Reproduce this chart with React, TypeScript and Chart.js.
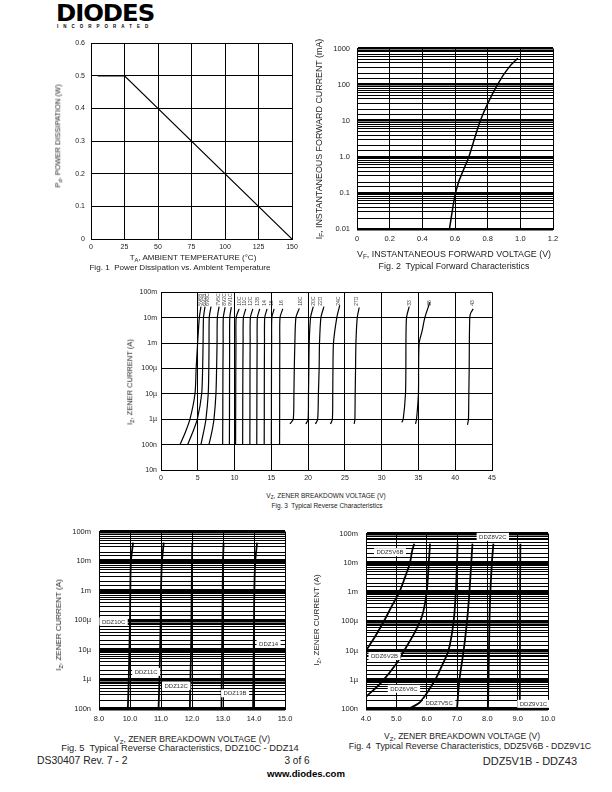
import React, { useEffect, useRef } from 'react';
import { Chart, registerables } from 'chart.js';

Chart.register(...registerables);

const FONT = '"Liberation Sans", Arial, Helvetica, sans-serif';

// ---------- Fig. 1 : power dissipation vs ambient temperature ----------
const FIG1_TEMP = [5, 25, 150];
const FIG1_POWER = [0.5, 0.5, 0];
const FIG1_X_LABELS = ['0', '25', '50', '75', '100', '125', '150'];
const FIG1_Y_LABELS = ['0', '0.1', '0.2', '0.3', '0.4', '0.5', '0.6'];

// ---------- Fig. 2 : forward characteristics ----------
const FIG2_VF = [0.566, 0.603, 0.685, 0.755, 0.86, 0.93, 0.985];
const FIG2_IF = [0.01, 0.1, 1, 10, 100, 300, 540];
const FIG2_X_LABELS = ['0', '0.2', '0.4', '0.6', '0.8', '1.0', '1.2'];
const FIG2_Y_LABELS = ['0.01', '0.1', '1.0', '10', '100', '1000']; // 10^-2 .. 10^3

// ---------- Fig. 3 : reverse characteristics (all types) ----------
const FIG3_NAMES = ['5V6B', '6V2B', '6V8C', '7V5C', '8V2C', '9V1C', '10C', '11C', '12C', '13B', '14', '15', '16', '18C', '20C', '22D', '24C', '27D', '33', '36', '43'];
const FIG3_VOLTS = [
  [2.58, 3.3, 3.94, 4.62, 4.78, 4.98, 5.21, 5.43],
  [3.62, 4.3, 4.94, 5.53, 5.66, 5.72, 5.78, 5.98],
  [5.43, 5.78, 6.11, 6.42, 6.5, 6.53, 6.56, 6.8],
  [6.52, 6.9, 7.2, 7.47, 7.56, 7.62, 7.66, 7.9],
  [8.38, 8.4, 8.42, 8.45, 8.47, 8.72],
  [9.3, 9.31, 9.32, 9.33, 9.35, 9.56],
  [10.14, 10.15, 10.17, 10.19, 10.22, 10.62],
  [11.1, 11.11, 11.13, 11.16, 11.2, 11.52],
  [12.08, 12.09, 12.1, 12.12, 12.15, 12.48],
  [13.02, 13.03, 13.05, 13.07, 13.1, 13.42],
  [14.03, 14.04, 14.05, 14.07, 14.1, 14.42],
  [15.0, 15.01, 15.02, 15.04, 15.07, 15.38],
  [16.12, 16.13, 16.14, 16.15, 16.18, 16.55],
  [17.53, 17.98, 18.07, 18.12, 18.2, 18.34, 18.8],
  [19.7, 20.0, 20.05, 20.1, 20.15, 20.33, 20.7],
  [21.0, 21.3, 21.4, 21.5, 21.55, 21.74, 22.15],
  [23.05, 23.3, 23.35, 23.38, 23.45, 23.9, 24.3],
  [26.27, 26.36, 26.4, 26.45, 26.5, 26.68, 26.95],
  [32.74, 32.93, 33.24, 33.29, 33.3, 33.38, 33.74],
  [34.6, 34.74, 35.0, 35.02, 35.1, 35.5, 35.87, 36.55],
  [41.67, 41.8, 41.85, 41.9, 41.92, 41.98, 42.1, 42.44],
];
const FIG3_AMPS = [
  [1e-7, 3e-7, 1e-6, 1e-5, 1e-4, 1e-3, 1e-2, 2.7e-2],
  [1e-7, 3e-7, 1e-6, 1e-5, 1e-4, 1e-3, 1e-2, 2.7e-2],
  [1e-7, 3e-7, 1e-6, 1e-5, 1e-4, 1e-3, 1e-2, 2.7e-2],
  [1e-7, 3e-7, 1e-6, 1e-5, 1e-4, 1e-3, 1e-2, 2.7e-2],
  [1e-7, 1e-6, 1e-4, 1e-3, 1e-2, 2.6e-2],
  [1e-7, 1e-6, 1e-4, 1e-3, 1e-2, 2.6e-2],
  [1e-7, 1e-6, 1e-4, 1e-3, 1e-2, 2.2e-2],
  [1e-7, 1e-6, 1e-4, 1e-3, 1e-2, 2.2e-2],
  [1e-7, 1e-6, 1e-4, 1e-3, 1e-2, 2.2e-2],
  [1e-7, 1e-6, 1e-4, 1e-3, 1e-2, 2.2e-2],
  [1e-7, 1e-6, 1e-4, 1e-3, 1e-2, 2.2e-2],
  [1e-7, 1e-6, 1e-4, 1e-3, 1e-2, 2.2e-2],
  [1e-7, 1e-6, 1e-4, 1e-3, 1e-2, 2.2e-2],
  [6.5e-7, 1e-6, 1e-5, 1e-4, 1e-3, 1e-2, 2.3e-2],
  [6.5e-7, 1e-6, 1e-5, 1e-4, 1e-3, 1e-2, 2.7e-2],
  [6.5e-7, 1e-6, 1e-5, 1e-4, 1e-3, 1e-2, 2.7e-2],
  [6.5e-7, 1e-6, 1e-5, 1e-4, 1e-3, 1e-2, 3e-2],
  [6.5e-7, 1e-6, 1e-5, 1e-4, 1e-3, 1e-2, 2.5e-2],
  [7.5e-7, 1e-6, 1e-5, 1e-4, 1e-3, 1e-2, 2.7e-2],
  [6.5e-7, 1e-6, 1e-5, 1e-4, 1e-3, 3e-3, 1e-2, 4e-2],
  [6e-7, 1e-6, 1e-5, 1e-4, 1e-3, 1e-2, 1.5e-2, 2.2e-2],
];
const FIG3_LABEL_VOLTS = [5.43, 5.88, 6.34, 7.88, 8.7, 9.51, 10.64, 11.41, 12.23, 13.09, 14.13, 15.04, 16.4, 18.97, 20.7, 21.7, 24.2, 26.6, 33.74, 36.55, 42.4];
const FIG3_LABEL_AMP = 2.9e-2;
const FIG3_X_LABELS = ['0', '5', '10', '15', '20', '25', '30', '35', '40', '45'];
const FIG3_Y_LABELS = ['10n', '100n', '1µ', '10µ', '100µ', '1m', '10m', '100m']; // 10^-8 .. 10^-1

// ---------- Fig. 5 : DDZ10C - DDZ14 ----------
const FIG5_NAMES = ['DDZ10C', 'DDZ11C', 'DDZ12C', 'DDZ13B', 'DDZ14'];
const FIG5_VOLTS = [
  [9.93, 9.96, 9.98, 10.0, 10.01, 10.03, 10.1],
  [10.92, 10.95, 10.97, 10.99, 11.0, 11.03, 11.09],
  [11.93, 11.95, 11.97, 11.98, 11.99, 12.0, 12.01],
  [12.95, 12.96, 12.97, 12.98, 12.99, 13.0, 13.02],
  [13.97, 13.98, 13.99, 14.0, 14.01, 14.04, 14.1],
];
const FIG5_AMPS = [
  [1e-7, 1e-6, 1e-5, 1e-4, 1e-3, 1e-2, 4.2e-2],
  [1e-7, 1e-6, 1e-5, 1e-4, 1e-3, 1e-2, 4.2e-2],
  [1e-7, 1e-6, 1e-5, 1e-4, 1e-3, 1e-2, 4.2e-2],
  [1e-7, 1e-6, 1e-5, 1e-4, 1e-3, 1e-2, 4.2e-2],
  [1e-7, 1e-6, 1e-5, 1e-4, 1e-3, 1e-2, 4.2e-2],
];
const FIG5_LABEL_V = [9.47, 10.52, 11.49, 13.39, 14.47];
const FIG5_LABEL_I = [9.1e-5, 1.8e-6, 6e-7, 3.4e-7, 1.65e-5];
const FIG5_X_LABELS = ['8.0', '10.0', '11.0', '12.0', '13.0', '14.0', '15.0'];

// ---------- Fig. 4 : DDZ5V6B - DDZ9V1C ----------
const FIG4_NAMES = ['DDZ5V6B', 'DDZ6V2B', 'DDZ6V8C', 'DDZ7V5C', 'DDZ8V2C', 'DDZ9V1C'];
const FIG4_VOLTS = [
  [4.0, 4.3, 4.59, 4.85, 5.1, 5.3, 5.45, 5.52, 5.59],
  [4.0, 4.5, 5.0, 5.26, 5.6, 5.85, 6.0, 6.07, 6.11],
  [5.4, 5.8, 6.28, 6.5, 6.72, 6.89, 6.96, 7.0, 7.02],
  [7.0, 7.08, 7.22, 7.33, 7.41, 7.47, 7.51],
  [8.02, 8.04, 8.07, 8.1, 8.15, 8.2],
  [9.07, 9.075, 9.08, 9.085, 9.09],
];
const FIG4_AMPS = [
  [1e-5, 3e-5, 1e-4, 3.3e-4, 1e-3, 3.5e-3, 1e-2, 2.5e-2, 4.5e-2],
  [2.6e-7, 8e-7, 3.5e-6, 1e-5, 4e-5, 1.5e-4, 1e-3, 1e-2, 4.5e-2],
  [1e-7, 1.8e-7, 1e-6, 3e-6, 1e-5, 1e-4, 1e-3, 1e-2, 4.5e-2],
  [1e-7, 1e-6, 1e-5, 1e-4, 1e-3, 1e-2, 4.5e-2],
  [1e-7, 1e-6, 1e-4, 1e-3, 1e-2, 4.5e-2],
  [1e-7, 1e-5, 1e-3, 1e-2, 4.5e-2],
];
const FIG4_LABEL_NAMES = ['DDZ5V6B', 'DDZ8V2C', 'DDZ6V2B', 'DDZ6V8C', 'DDZ7V5C', 'DDZ9V1C'];
const FIG4_LABEL_V = [4.79, 8.18, 4.61, 5.25, 6.41, 9.52];
const FIG4_LABEL_I = [2.3e-2, 7.7e-2, 6.5e-6, 4.9e-7, 1.6e-7, 1.5e-7];
const FIG4_X_LABELS = ['4.0', '5.0', '6.0', '7.0', '8.0', '9.0', '10.0'];
const FIG45_Y_LABELS = ['100n', '1µ', '10µ', '100µ', '1m', '10m', '100m']; // 10^-7 .. 10^-1

// ---------- helpers ----------
const isDecade = (v: number) => {
  if (!(v > 0)) return false;
  const e = Math.log10(v);
  return Math.abs(e - Math.round(e)) < 1e-6;
};

type Geo = { yW: number; xH: number; padT: number; padR: number };

function linearAxis(horizontal: boolean, min: number, max: number, step: number, labels: string[], pad: number, size: number, geo: Geo) {
  return {
    type: 'linear',
    min,
    max,
    ticks: {
      stepSize: step,
      autoSkip: false,
      maxRotation: 0,
      minRotation: 0,
      padding: pad,
      color: '#222',
      font: { family: FONT, size },
      callback: (_v: any, i: number) => labels[i] ?? '',
    },
    grid: { color: '#000', lineWidth: 1, drawTicks: false },
    border: { display: true, color: '#000', width: 1 },
    afterFit: (s: any) => {
      if (horizontal) s.height = geo.xH;
      else s.width = geo.yW;
    },
  };
}

function logAxis(min: number, max: number, minExp: number, labels: string[], pad: number, size: number, decadeW: number, minorW: number, geo: Geo) {
  return {
    type: 'logarithmic',
    min,
    max,
    ticks: {
      autoSkip: false,
      padding: pad,
      color: '#222',
      font: { family: FONT, size },
      callback: (v: any) => {
        const n = Number(v);
        if (!isDecade(n)) return '';
        return labels[Math.round(Math.log10(n)) - minExp] ?? '';
      },
    },
    grid: {
      drawTicks: false,
      color: (c: any) => {
        const v = c?.tick?.value;
        if (isDecade(v)) return '#000';
        return minorW > 0 ? '#000' : 'rgba(0,0,0,0)';
      },
      lineWidth: (c: any) => {
        const v = c?.tick?.value;
        if (isDecade(v)) return decadeW;
        return minorW > 0 ? minorW : 0;
      },
    },
    border: { display: true, color: '#000', width: 1 },
    afterFit: (s: any) => {
      s.width = geo.yW;
    },
  };
}

function baseOptions(geo: Geo, scales: any) {
  return {
    animation: false,
    responsive: false,
    maintainAspectRatio: false,
    events: [],
    layout: { padding: { top: geo.padT, right: geo.padR, left: 0, bottom: 0 } },
    plugins: { legend: { display: false }, tooltip: { enabled: false }, title: { display: false } },
    elements: { point: { radius: 0 } },
    scales,
  };
}

function curveSets(volts: number[][], amps: number[][], names: string[], width: number, tension: number) {
  return volts.map((vs, k) => ({
    label: names[k],
    data: vs.map((v, j) => ({ x: v, y: amps[k][j] })),
    borderColor: '#000',
    borderWidth: width,
    pointRadius: 0,
    tension,
    fill: false,
  }));
}

function boxedLabels(id: string, names: string[], vs: number[], is: number[]) {
  return {
    id,
    afterDatasetsDraw(chart: any) {
      const { ctx, scales } = chart;
      ctx.save();
      ctx.font = `6px ${FONT}`;
      ctx.textAlign = 'center';
      ctx.textBaseline = 'middle';
      names.forEach((n, k) => {
        const px = scales.x.getPixelForValue(vs[k]);
        const py = scales.y.getPixelForValue(is[k]);
        const w = ctx.measureText(n).width;
        ctx.fillStyle = '#fff';
        ctx.fillRect(px - w / 2 - 2.5, py - 4, w + 5, 8);
        ctx.fillStyle = '#333';
        ctx.fillText(n, px, py + 0.5);
      });
      ctx.restore();
    },
  };
}

const fig3Labels = {
  id: 'fig3Labels',
  afterDatasetsDraw(chart: any) {
    const { ctx, scales } = chart;
    ctx.save();
    ctx.font = `5px ${FONT}`;
    ctx.fillStyle = '#444';
    ctx.textAlign = 'left';
    ctx.textBaseline = 'middle';
    FIG3_NAMES.forEach((n, k) => {
      const px = scales.x.getPixelForValue(FIG3_LABEL_VOLTS[k]);
      const py = scales.y.getPixelForValue(FIG3_LABEL_AMP);
      ctx.save();
      ctx.translate(px, py);
      ctx.rotate(-Math.PI / 2);
      ctx.fillText(n, 0, 0);
      ctx.restore();
    });
    ctx.restore();
  },
};

// ---------- chart builders ----------
const G1: Geo = { yW: 40, xH: 16, padT: 6, padR: 12 };
const G2: Geo = { yW: 40, xH: 16, padT: 6, padR: 14 };
const G3: Geo = { yW: 40, xH: 16, padT: 6, padR: 14 };
const G5: Geo = { yW: 40, xH: 18, padT: 6, padR: 14 };
const G4: Geo = { yW: 40, xH: 18, padT: 6, padR: 14 };

function makeFig1(c: HTMLCanvasElement) {
  return new Chart(c, {
    type: 'line',
    data: {
      datasets: [
        {
          data: FIG1_TEMP.map((t, i) => ({ x: t, y: FIG1_POWER[i] })),
          borderColor: '#000',
          borderWidth: 1.2,
          pointRadius: 0,
          tension: 0,
        },
      ],
    },
    options: baseOptions(G1, {
      x: linearAxis(true, 0, 150, 25, FIG1_X_LABELS, 4, 7, G1),
      y: linearAxis(false, 0, 0.6, 0.1, FIG1_Y_LABELS, 6, 7, G1),
    }) as any,
  } as any);
}

function makeFig2(c: HTMLCanvasElement) {
  return new Chart(c, {
    type: 'line',
    data: {
      datasets: [
        {
          data: FIG2_VF.map((v, i) => ({ x: v, y: FIG2_IF[i] })),
          borderColor: '#000',
          borderWidth: 1.5,
          pointRadius: 0,
          cubicInterpolationMode: 'monotone',
        },
      ],
    },
    options: baseOptions(G2, {
      x: linearAxis(true, 0, 1.2, 0.2, FIG2_X_LABELS, 5, 7.5, G2),
      y: logAxis(0.01, 1000, -2, FIG2_Y_LABELS, 7, 7.5, 2.5, 1, G2),
    }) as any,
  } as any);
}

function makeFig3(c: HTMLCanvasElement) {
  return new Chart(c, {
    type: 'line',
    data: { datasets: curveSets(FIG3_VOLTS, FIG3_AMPS, FIG3_NAMES, 1.2, 0.25) as any },
    options: baseOptions(G3, {
      x: linearAxis(true, 0, 45, 5, FIG3_X_LABELS, 4, 7, G3),
      y: logAxis(1e-8, 1e-1, -8, FIG3_Y_LABELS, 4, 7, 1, 0, G3),
    }) as any,
    plugins: [fig3Labels],
  } as any);
}

function makeFig5(c: HTMLCanvasElement) {
  return new Chart(c, {
    type: 'line',
    data: { datasets: curveSets(FIG5_VOLTS, FIG5_AMPS, FIG5_NAMES, 1.8, 0.25) as any },
    options: baseOptions(G5, {
      x: linearAxis(true, 9, 15, 1, FIG5_X_LABELS, 5, 7.5, G5),
      y: logAxis(1e-7, 1e-1, -7, FIG45_Y_LABELS, 8, 7.5, 3.5, 1, G5),
    }) as any,
    plugins: [boxedLabels('fig5Labels', FIG5_NAMES, FIG5_LABEL_V, FIG5_LABEL_I)],
  } as any);
}

function makeFig4(c: HTMLCanvasElement) {
  return new Chart(c, {
    type: 'line',
    data: { datasets: curveSets(FIG4_VOLTS, FIG4_AMPS, FIG4_NAMES, 1.8, 0.3) as any },
    options: baseOptions(G4, {
      x: linearAxis(true, 4, 10, 1, FIG4_X_LABELS, 5, 7.5, G4),
      y: logAxis(1e-7, 1e-1, -7, FIG45_Y_LABELS, 8, 7.5, 3.5, 1, G4),
    }) as any,
    plugins: [boxedLabels('fig4Labels', FIG4_LABEL_NAMES, FIG4_LABEL_V, FIG4_LABEL_I)],
  } as any);
}

// ---------- components ----------
function ChartCanvas({ plot, geo, make }: { plot: [number, number, number, number]; geo: Geo; make: (c: HTMLCanvasElement) => Chart }) {
  const ref = useRef<HTMLCanvasElement>(null);
  const [L, T, R, B] = plot;
  const w = geo.yW + (R - L) + geo.padR;
  const h = geo.padT + (B - T) + geo.xH;
  useEffect(() => {
    const chart = make(ref.current as HTMLCanvasElement);
    return () => chart.destroy();
  }, []);
  return (
    <canvas
      ref={ref}
      width={w}
      height={h}
      style={{ position: 'absolute', left: L - geo.yW, top: T - geo.padT, width: w, height: h }}
    />
  );
}

function Txt({ x, y, size, children, rot, bold, align = 'center', color = '#222' }: any) {
  const tr = align === 'center' ? 'translate(-50%,-50%)' : align === 'left' ? 'translate(0,-50%)' : 'translate(-100%,-50%)';
  return (
    <div
      style={{
        position: 'absolute',
        left: x,
        top: y,
        transform: tr + (rot ? ' rotate(-90deg)' : ''),
        fontFamily: FONT,
        fontSize: size,
        fontWeight: bold ? 'bold' : 'normal',
        whiteSpace: 'nowrap',
        lineHeight: 1,
        color,
      }}
    >
      {children}
    </div>
  );
}

const Sub = ({ children }: any) => (
  <span style={{ fontSize: '72%', position: 'relative', top: '0.3em' }}>{children}</span>
);

export default function App() {
  return (
    <div style={{ position: 'absolute', left: 0, top: 0, width: 612, height: 792, background: '#fff', overflow: 'hidden' }}>
      {/* logo */}
      <div
        style={{
          position: 'absolute',
          left: 56,
          top: 2,
          fontFamily: '"DejaVu Sans", sans-serif',
          fontWeight: 900,
          fontSize: 23,
          letterSpacing: -1,
          lineHeight: 1,
          transform: 'scaleX(1.06)',
          transformOrigin: 'left top',
          color: '#000',
        }}
      >
        DIODES
      </div>
      <div
        style={{
          position: 'absolute',
          left: 57,
          top: 25,
          fontFamily: FONT,
          fontWeight: 'bold',
          fontSize: 4.5,
          letterSpacing: 5,
          lineHeight: 1,
          color: '#000',
        }}
      >
        INCORPORATED
      </div>

      {/* Fig 1 */}
      <ChartCanvas plot={[91, 39, 292, 239]} geo={G1} make={makeFig1} />
      <Txt x={58} y={136} size={7.5} rot>
        P<Sub>d</Sub>, POWER DISSIPATION (W)
      </Txt>
      <Txt x={193} y={258} size={8}>
        T<Sub>A</Sub>, AMBIENT TEMPERATURE (°C)
      </Txt>
      <Txt x={180} y={268} size={8.1}>
        Fig. 1&nbsp; Power Dissipation vs. Ambient Temperature
      </Txt>

      {/* Fig 2 */}
      <ChartCanvas plot={[357, 43, 553, 229]} geo={G2} make={makeFig2} />
      <Txt x={319} y={139} size={8.9} rot>
        I<Sub>F</Sub>, INSTANTANEOUS FORWARD CURRENT (mA)
      </Txt>
      <Txt x={454} y={254} size={8.9}>
        V<Sub>F</Sub>, INSTANTANEOUS FORWARD VOLTAGE (V)
      </Txt>
      <Txt x={454} y={266} size={8.9}>
        Fig. 2&nbsp; Typical Forward Characteristics
      </Txt>

      {/* Fig 3 */}
      <ChartCanvas plot={[161, 290, 492, 470]} geo={G3} make={makeFig3} />
      <Txt x={130} y={382} size={7.5} rot>
        I<Sub>Z</Sub>, ZENER CURRENT (A)
      </Txt>
      <Txt x={326} y={496} size={6.5}>
        V<Sub>Z</Sub>, ZENER BREAKDOWN VOLTAGE (V)
      </Txt>
      <Txt x={327} y={506} size={6.5}>
        Fig. 3&nbsp; Typical Reverse Characteristics
      </Txt>

      {/* Fig 5 */}
      <ChartCanvas plot={[99, 525, 285, 709]} geo={G5} make={makeFig5} />
      <Txt x={59} y={625} size={8} rot>
        I<Sub>Z</Sub>, ZENER CURRENT (A)
      </Txt>
      <Txt x={192} y={739} size={8.5}>
        V<Sub>Z</Sub>, ZENER BREAKDOWN VOLTAGE (V)
      </Txt>
      <Txt x={180} y={749} size={9.3}>
        Fig. 5&nbsp; Typical Reverse Characteristics, DDZ10C - DDZ14
      </Txt>

      {/* Fig 4 */}
      <ChartCanvas plot={[366, 527, 548, 709]} geo={G4} make={makeFig4} />
      <Txt x={317} y={620} size={8} rot>
        I<Sub>Z</Sub>, ZENER CURRENT (A)
      </Txt>
      <Txt x={462} y={736} size={8.5}>
        V<Sub>Z</Sub>, ZENER BREAKDOWN VOLTAGE (V)
      </Txt>
      <Txt x={470} y={746} size={8.8}>
        Fig. 4&nbsp; Typical Reverse Characteristics, DDZ5V6B - DDZ9V1C
      </Txt>

      {/* footer */}
      <Txt x={37} y={761} size={10.4} align="left">
        DS30407 Rev. 7 - 2
      </Txt>
      <Txt x={297} y={761} size={10}>
        3 of 6
      </Txt>
      <Txt x={577} y={761} size={11} align="right">
        DDZ5V1B - DDZ43
      </Txt>
      <Txt x={306} y={774} size={9.6} bold color="#000">
        www.diodes.com
      </Txt>
    </div>
  );
}
